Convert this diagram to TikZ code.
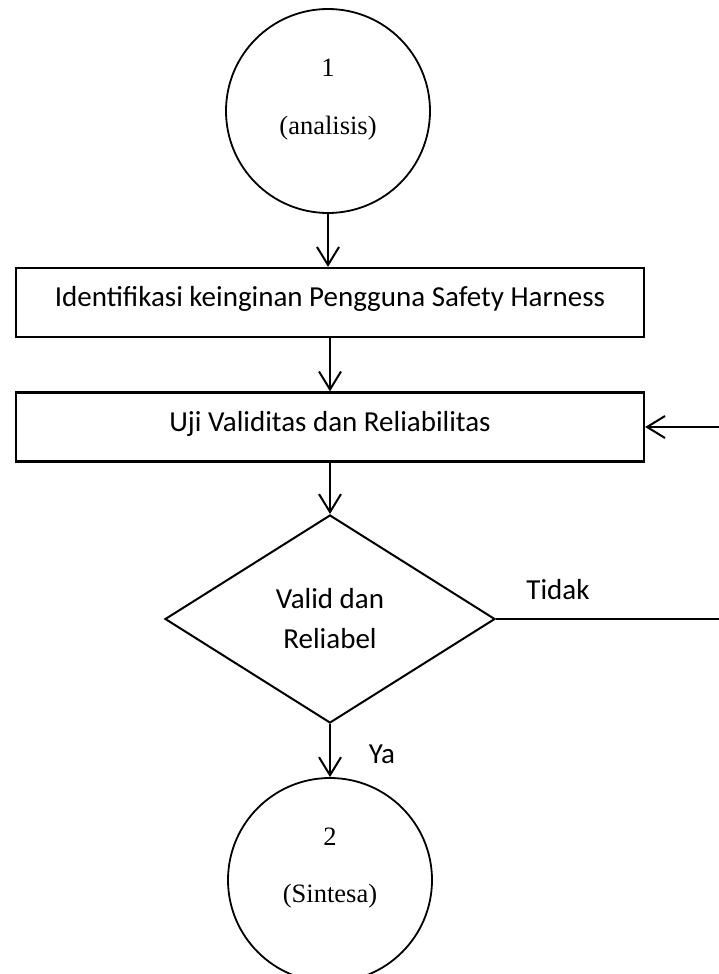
\documentclass[tikz,border=0pt]{standalone}
\usepackage{fontspec}
\setmainfont{Liberation Serif}
\newfontfamily\calib{Carlito}
\usetikzlibrary{shapes.geometric,arrows.meta}
\begin{document}
\begin{tikzpicture}[x=1pt,y=-1pt,line width=2pt,
  flow/.style={-{Straight Barb[length=18pt,width=22pt,line width=2pt]}},
  circ/.style={draw,circle,minimum size=204pt,inner sep=0pt,line width=1.8pt},
  seriftext/.style={font=\fontsize{26.5}{32}\selectfont,anchor=base,inner sep=0pt},
  sanstext/.style={font=\calib\fontsize{29}{35}\selectfont,anchor=base,inner sep=0pt},
  box/.style={draw,rectangle,minimum width=628pt,minimum height=69pt,inner sep=0pt,
    line width=2.2pt,text height=20pt,text depth=12pt,font=\calib\fontsize{29}{35}\selectfont},
  decision/.style={draw,diamond,minimum width=330pt,minimum height=208pt,inner sep=0pt,
    align=center,font=\calib\fontsize{29}{35}\selectfont}]
  % canvas
  \fill[white] (0,0) rectangle (718,974);
  \useasboundingbox (0,0) rectangle (718,974);

  % start connector
  \node[circ] (c1) at (328,111) {};
  \node[seriftext] (c1num) at (328,77) {1};
  \node[seriftext] (c1txt) at (328,134) {(analisis)};

  % process steps
  \node[box] (b1) at (330,302.5) {Identifikasi keinginan Pengguna Safety Harness};
  \node[box] (b2) at (330,427) {Uji Validitas dan Reliabilitas};

  % decision
  \node[decision] (d) at (330,619) {Valid dan\\[5pt]Reliabel};

  % end connector
  \node[circ] (c2) at (330,880) {};
  \node[seriftext] (c2num) at (330,845) {2};
  \node[seriftext] (c2txt) at (330,902) {(Sintesa)};

  % branch labels
  \node[sanstext] (no) at (558,599) {Tidak};
  \node[sanstext] (yes) at (382,763) {Ya};

  % connectors
  \draw[flow] (c1.south) -- (c1.south |- b1.north);
  \draw[flow] (b1.south) -- (b2.north);
  \draw[flow] (b2.south) -- (d.north);
  \draw[flow] (d.south) -- (c2.north);
  \coordinate (loop) at (722,619);
  \draw[flow] (d.east) -- (loop) |- (b2.east);
\end{tikzpicture}
\end{document}
